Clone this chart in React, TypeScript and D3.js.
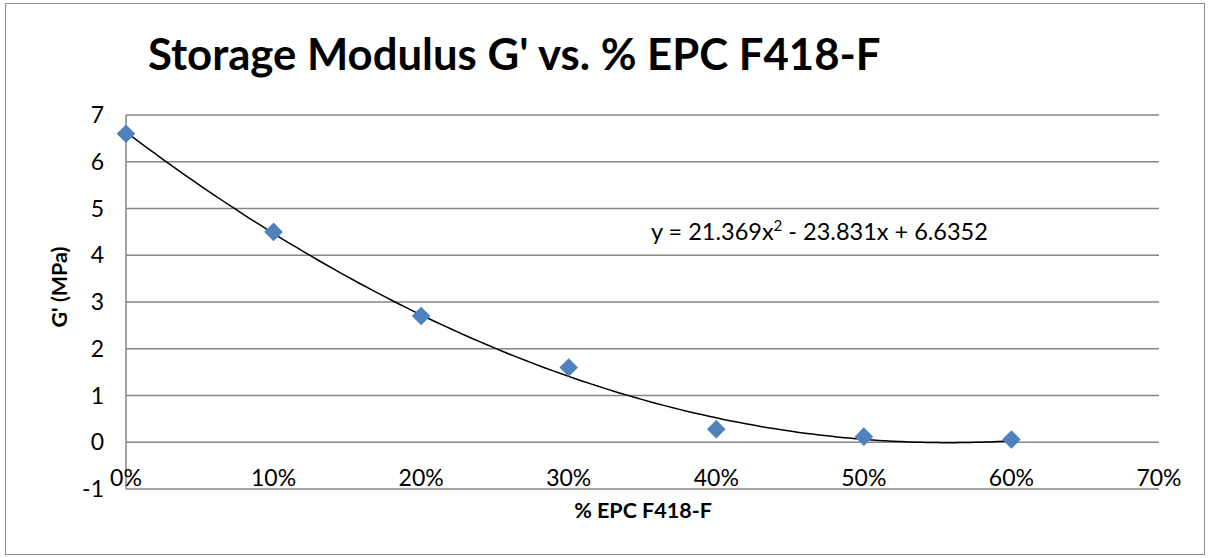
import React from "react";
import * as d3 from "d3";

const xValues = [0, 0.1, 0.2, 0.3, 0.4, 0.5, 0.6];
const gValues = [6.6, 4.5, 2.7, 1.6, 0.28, 0.12, 0.06];
const yTicks = [-1, 0, 1, 2, 3, 4, 5, 6, 7];
const xTicks = [0, 0.1, 0.2, 0.3, 0.4, 0.5, 0.6, 0.7];
const trendCoef = [21.369, -23.831, 6.6352];

const W = 1210;
const H = 558;
const FONT = "Lato, 'Open Sans', sans-serif";

export default function App() {
  const x = d3.scaleLinear().domain([0, 0.7]).range([126, 1159]);
  const y = d3.scaleLinear().domain([-1, 7]).range([489, 115]);
  const trendX = d3.range(0, 0.6001, 0.005);
  const trend = d3
    .line<number>()
    .x((d) => x(d))
    .y((d) => y(trendCoef[0] * d * d + trendCoef[1] * d + trendCoef[2]))
    .curve(d3.curveMonotoneX)(trendX);
  const diamond = d3.symbol().type(d3.symbolDiamond2).size(220)();
  const fmt = d3.format(".0%");
  return (
    <svg width={W} height={H} style={{ position: "absolute", left: 0, top: 0 }}>
      <rect x={0} y={0} width={W} height={H} fill="#fff" />
      <rect x={5.5} y={3.5} width={1199} height={551} fill="#fff" stroke="#8c8c8c" strokeWidth={1} />
      <text x={148} y={70} fontFamily={FONT} fontWeight="bold" fontSize={43.7} fill="#000">
        Storage Modulus G' vs. % EPC F418-F
      </text>
      {yTicks.map((t) => (
        <line key={t} x1={x(0)} x2={x(0.7)} y1={y(t)} y2={y(t)} stroke="#868686" strokeWidth={1.5} />
      ))}
      <line x1={x(0)} x2={x(0)} y1={y(7)} y2={y(-1)} stroke="#868686" strokeWidth={1.5} />
      {yTicks.map((t) => (
        <text key={t} x={104} y={y(t) + 8} textAnchor="end" fontFamily={FONT} fontSize={23} fill="#000">
          {t}
        </text>
      ))}
      {xTicks.map((t) => (
        <text key={t} x={x(t)} y={486} textAnchor="middle" fontFamily={FONT} fontSize={23} fill="#000">
          {fmt(t)}
        </text>
      ))}
      <path d={trend || ""} fill="none" stroke="#000" strokeWidth={1.5} />
      {xValues.map((v, i) => (
        <path key={i} d={diamond || ""} transform={`translate(${x(v)},${y(gValues[i])})`} fill="#4F81BD" />
      ))}
      <text x={651} y={240} fontFamily={FONT} fontSize={23.5} fill="#000">
        y = 21.369x<tspan dy={-9} fontSize={15}>2</tspan>
        <tspan dy={9}> - 23.831x + 6.6352</tspan>
      </text>
      <text
        transform={`translate(67,287) rotate(-90)`}
        textAnchor="middle"
        fontFamily={FONT}
        fontWeight="bold"
        fontSize={21.5}
        fill="#000"
      >
        G' (MPa)
      </text>
      <text x={643} y={518} textAnchor="middle" fontFamily={FONT} fontWeight="bold" fontSize={21.5} fill="#000">
        % EPC F418-F
      </text>
    </svg>
  );
}
